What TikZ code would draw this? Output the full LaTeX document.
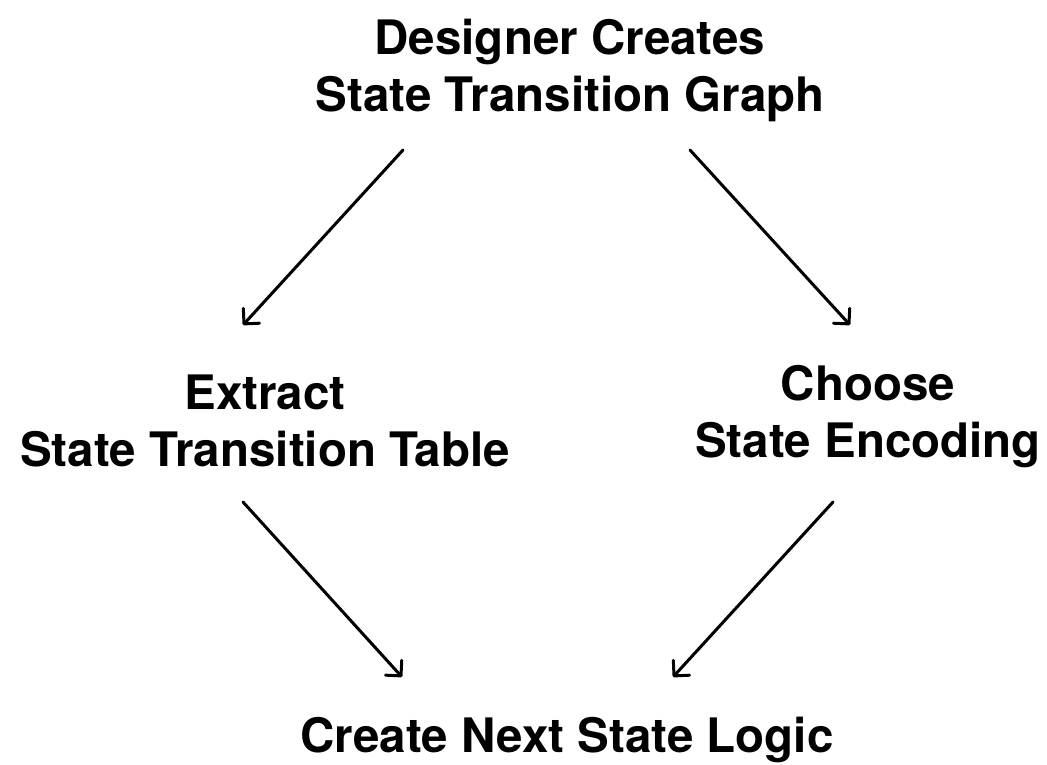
\documentclass[tikz,border=0pt]{standalone}
\usepackage{fontspec}
\setmainfont{TeX Gyre Heros}
\usetikzlibrary{arrows.meta}
\begin{document}
\begin{tikzpicture}[x=1pt,y=-1pt,
  stage/.style={align=center, inner sep=0pt, anchor=base,
    font=\fontsize{47.5}{57}\selectfont\bfseries},
  flow/.style={line width=3pt, line cap=round,
    -{Straight Barb[length=11pt,width=22pt,round]}}]
\useasboundingbox (0,0) rectangle (1047,764);
% process stages (anchored at the baseline of the last line)
\node[stage] (graph)    at (570,111) {Designer Creates\\State Transition Graph};
\node[stage] (table)    at (265,466) {Extract\\State Transition Table};
\node[stage] (encoding) at (868,457) {Choose\\State Encoding};
\node[stage] (logic)    at (567,752) {Create Next State Logic};
% arrow end points
\coordinate (g-l) at (403,150);
\coordinate (g-r) at (690,150);
\coordinate (t-in) at (243,325);
\coordinate (e-in) at (850,325);
\coordinate (t-out) at (243,502);
\coordinate (e-out) at (833,502);
\coordinate (l-inl) at (402,677);
\coordinate (l-inr) at (673,677);
% transitions
\draw[flow] (g-l) -- (t-in);
\draw[flow] (g-r) -- (e-in);
\draw[flow] (t-out) -- (l-inl);
\draw[flow] (e-out) -- (l-inr);
\end{tikzpicture}
\end{document}
